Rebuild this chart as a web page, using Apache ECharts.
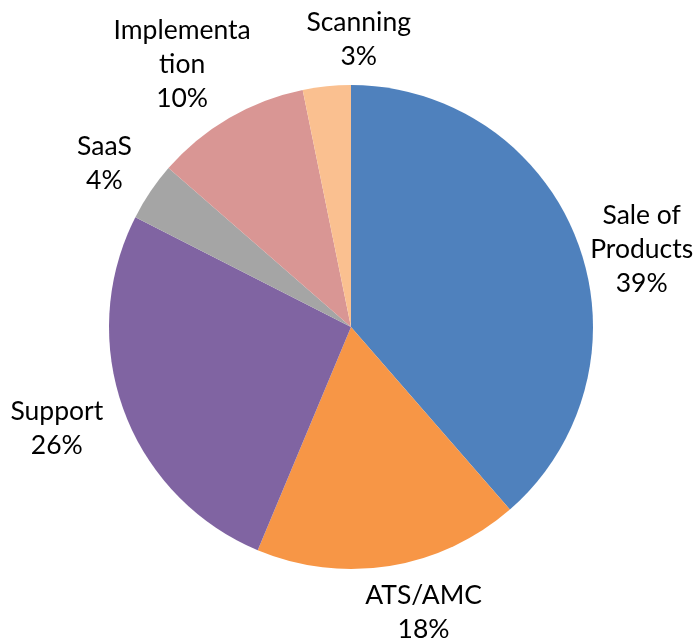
<!DOCTYPE html>
<html>
<head>
<meta charset="utf-8">
<script src="https://cdn.jsdelivr.net/npm/echarts@6/dist/echarts.min.js"></script>
<style>
html,body{margin:0;padding:0;background:#fff;}
#chart{width:697px;height:644px;}
</style>
</head>
<body>
<div id="chart"></div>
<script>
// Data (share of total, %)
const categories = ['Sale of Products', 'ATS/AMC', 'Support', 'SaaS', 'Implementation', 'Scanning'];
const labelTexts = ['Sale of\nProducts', 'ATS/AMC', 'Support', 'SaaS', 'Implementa\ntion', 'Scanning'];
const values = [38.6, 17.7, 26.2, 3.9, 10.4, 3.2];
const colors = ['#4F81BD', '#F79646', '#8064A2', '#A5A5A5', '#D99694', '#FAC090'];

// label placement nudges relative to each slice's outer anchor point (style only)
const labelNudge = [[64, 7], [34, 47], [-67, 18], [-46, -28], [-47, -53], [32, -47]];

const chart = echarts.init(document.getElementById('chart'), null, {renderer: 'canvas'});
const seriesData = categories.map((c, i) => ({
  name: c,
  value: values[i],
  itemStyle: {color: colors[i]}
}));

chart.setOption({
  animation: false,
  backgroundColor: '#ffffff',
  series: [{
    type: 'pie',
    center: [351, 327],
    radius: [0, 242],
    startAngle: 90,
    clockwise: true,
    avoidLabelOverlap: false,
    data: seriesData,
    itemStyle: {borderWidth: 0},
    label: {
      show: true,
      position: 'outside',
      fontFamily: 'Lato',
      fontSize: 26.5,
      lineHeight: 34,
      color: '#000000',
      align: 'center',
      formatter: p => labelTexts[p.dataIndex] + '\n' + Math.round(p.percent) + '%'
    },
    labelLine: {show: true, length: 0, length2: 0, lineStyle: {opacity: 0, width: 0}},
    labelLayout: function (params) {
      const n = labelNudge[params.dataIndex];
      let ax, ay;
      if (params.labelLinePoints && params.labelLinePoints[0]) {
        ax = params.labelLinePoints[0][0];
        ay = params.labelLinePoints[0][1];
      } else {
        const r = params.labelRect;
        ax = r.x + r.width / 2;
        ay = r.y + r.height / 2;
      }
      return {x: ax + n[0], y: ay + n[1], align: 'center', verticalAlign: 'middle'};
    }
  }]
});
</script>
</body>
</html>
